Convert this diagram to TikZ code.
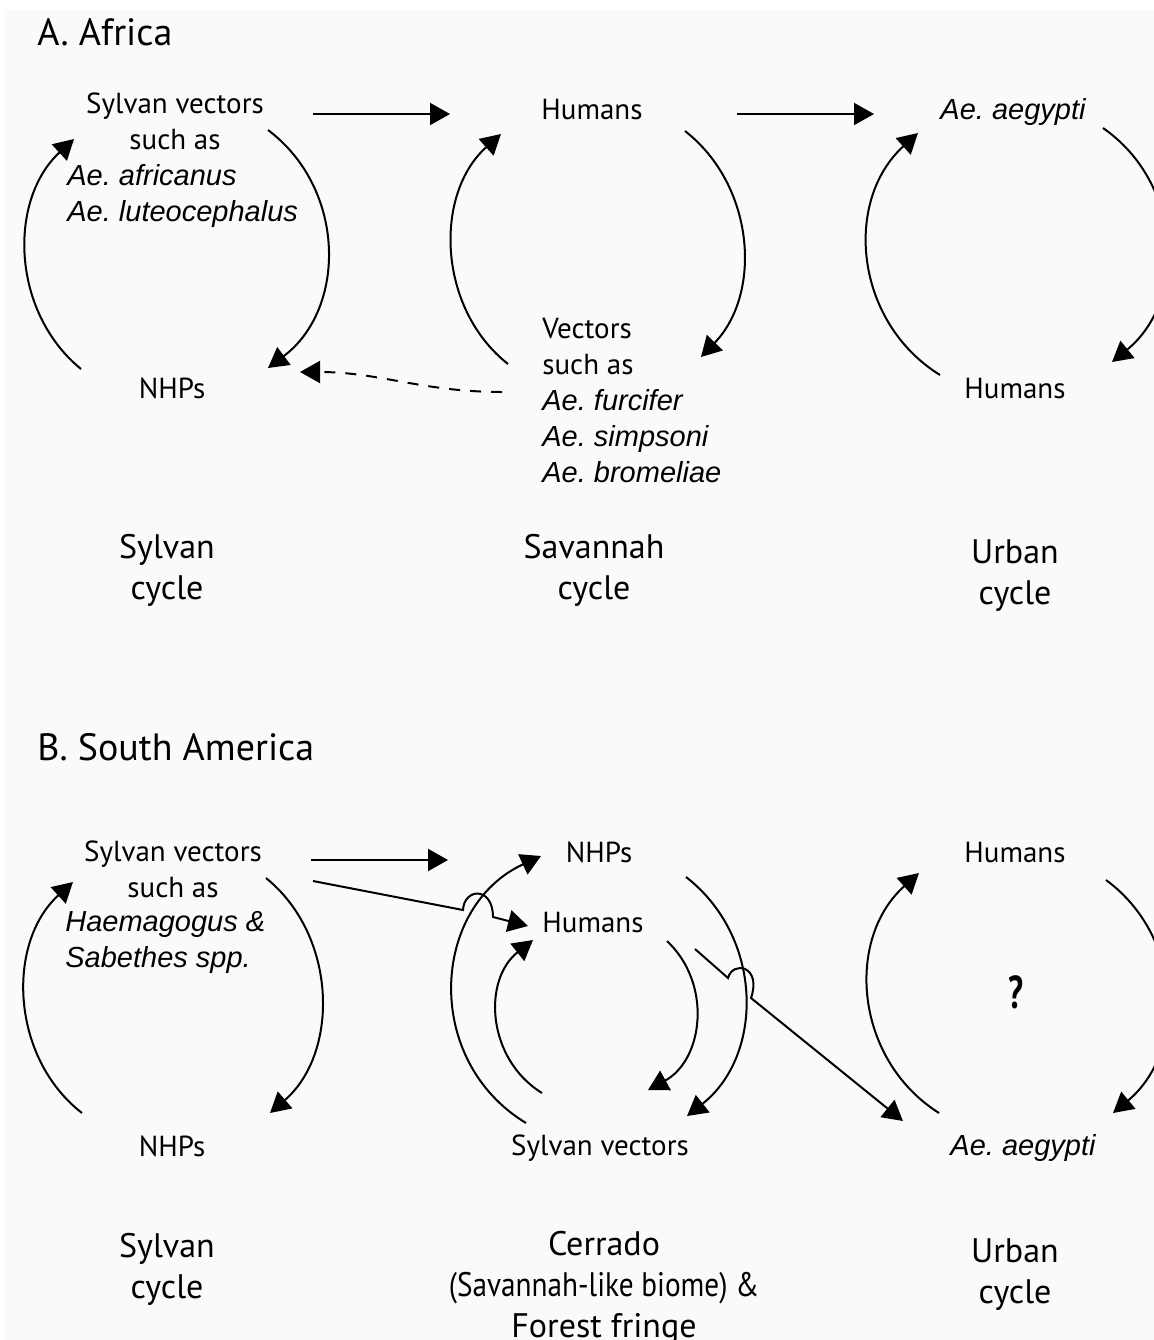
\documentclass[tikz,border=0pt]{standalone}
\usepackage{fontspec}
\setmainfont{PT Sans}
\newfontfamily\spfont{Liberation Sans}
\newcommand{\spp}[1]{{\spfont\itshape #1}}
\usetikzlibrary{arrows.meta}
\definecolor{paper}{RGB}{250,250,250}

\tikzset{
  >={Triangle[length=10pt,width=11pt]},
  txt/.style={inner sep=0pt,font=\fontsize{14.5}{18}\selectfont},
  cyc/.style={inner sep=0pt,align=center,anchor=base,font=\fontsize{17}{20.5}\selectfont},
  ttl/.style={inner sep=0pt,anchor=base west,font=\fontsize{19}{24}\selectfont},
  flow/.style={line width=1pt,->},
}

\begin{document}
\frenchspacing
\begin{tikzpicture}[x=0.5pt,y=-0.5pt]
\useasboundingbox (0,0) rectangle (1154,1340);
\fill[paper] (4,10) rectangle (1154,1340);

% A. Africa
\node[ttl] (titleA) at (37,45) {A. Africa};
\node[txt,align=center,anchor=base] (svA) at (175,149) {Sylvan vectors\\such as};
\node[txt,align=left,anchor=base west] (sppA) at (67,221) {\spp{Ae. africanus}\\\spp{Ae. luteocephalus}};
\node[txt,anchor=base] (nhpA) at (172,398) {NHPs};
\node[txt,anchor=base] (humA) at (592,119) {Humans};
\node[txt,align=left,anchor=base west] (vecA) at (542,482) {Vectors\\such as\\\spp{Ae. furcifer}\\\spp{Ae. simpsoni}\\\spp{Ae. bromeliae}};
\node[txt,anchor=base] (aegA) at (1013,119) {\spp{Ae. aegypti}};
\node[txt,anchor=base] (humA2) at (1015,398) {Humans};

\node[cyc] (cycA1) at (167,599) {Sylvan\\cycle};
\node[cyc] (cycA2) at (594,599) {Savannah\\cycle};
\node[cyc] (cycA3) at (1015,604) {Urban\\cycle};

\coordinate (a1) at (81,369);   \coordinate (a2) at (74,139);
\coordinate (a3) at (268,130);  \coordinate (a4) at (268,368);
\coordinate (a5) at (508,364);  \coordinate (a6) at (501,134);
\coordinate (a7) at (685,131);  \coordinate (a8) at (701,357);
\coordinate (a9) at (940,375);  \coordinate (a10) at (918,133);
\coordinate (a11) at (1103,128); \coordinate (a12) at (1112,362);
\coordinate (d1) at (502,392);  \coordinate (d2) at (300,372);

\draw[flow] (a1) to[bend left=49] (a2);
\draw[flow] (a3) to[bend left=53,looseness=1.06] (a4);
\draw[flow] (a5) to[bend left=50] (a6);
\draw[flow] (a7) to[bend left=48] (a8);
\draw[flow] (a9) to[bend left=53,looseness=1.06] (a10);
\draw[flow] (a11) to[bend left=53,looseness=1.06] (a12);
\draw[flow] (313,114) coordinate (h1) -- (450,114) coordinate (h2);
\draw[flow] (737,114) coordinate (h3) -- (874,114) coordinate (h4);
\draw[flow,dash pattern=on 5.5pt off 5pt] (d1) to[out=180,in=0] (d2);

% B. South America
\node[ttl] (titleB) at (37,760) {B. South America};
\node[txt,align=center,anchor=base] (svB) at (173,897) {Sylvan vectors\\such as};
\node[txt,align=left,anchor=base west] (sppB) at (65,967) {\spp{Haemagogus \&}\\\spp{Sabethes spp.}};
\node[txt,anchor=base] (nhpB) at (172,1156) {NHPs};
\node[txt,anchor=base] (nhpB2) at (599,862) {NHPs};
\node[txt,anchor=base] (humB) at (593,932) {Humans};
\node[txt,anchor=base] (svecB) at (600,1155) {Sylvan vectors};
\node[txt,anchor=base] (humB2) at (1015,862) {Humans};
\node[inner sep=0pt,anchor=base,font=\fontsize{23}{24}\selectfont\bfseries] (qB) at (1016,1008) {\scalebox{0.72}[1]{?}};
\node[txt,anchor=base] (aegB) at (1023,1155) {\spp{Ae. aegypti}};

\node[cyc] (cycB1) at (167,1298) {Sylvan\\cycle};
\node[cyc] (cycB2) at (604,1337) {Cerrado\\\scalebox{0.86}[1]{(Savannah-like biome) \&}\\Forest fringe};
\node[cyc] (cycB3) at (1015,1303) {Urban\\cycle};

\coordinate (b1) at (82,1113);   \coordinate (b2) at (73,882);
\coordinate (b3) at (266,878);   \coordinate (b4) at (270,1113);
\coordinate (b5) at (526,1123);  \coordinate (b6) at (541,856);
\coordinate (b7) at (542,1093);  \coordinate (b8) at (533,940);
\coordinate (b9) at (667,941);   \coordinate (b10) at (648,1090);
\coordinate (b11) at (686,877);  \coordinate (b12) at (687,1116);
\coordinate (b13) at (939,1113); \coordinate (b14) at (919,873);
\coordinate (b15) at (1106,880); \coordinate (b16) at (1113,1113);

\draw[flow] (b1) to[bend left=50] (b2);
\draw[flow] (b3) to[bend left=50] (b4);
\draw[flow] (b5) to[bend left=62,looseness=1.16] (b6);
\draw[flow] (b7) to[bend left=55,looseness=1.08] (b8);
\draw[flow] (b9) to[bend left=54,looseness=1.07] (b10);
\draw[flow] (b11) to[bend left=52,looseness=1.05] (b12);
\draw[flow] (b13) to[bend left=53,looseness=1.06] (b14);
\draw[flow] (b15) to[bend left=52,looseness=1.05] (b16);
\draw[flow] (311,860) coordinate (h5) -- (448,860) coordinate (h6);

% hops over the arcs
\draw[flow] (313,881) coordinate (j1) -- (463,910) .. controls (464,888) and (493,886) .. (493,917) -- (528,926) coordinate (j2);
\draw[flow] (695,949) coordinate (j3) -- (728,978) .. controls (733,960) and (762,966) .. (751,998) -- (903,1121) coordinate (j4);
\end{tikzpicture}
\end{document}
